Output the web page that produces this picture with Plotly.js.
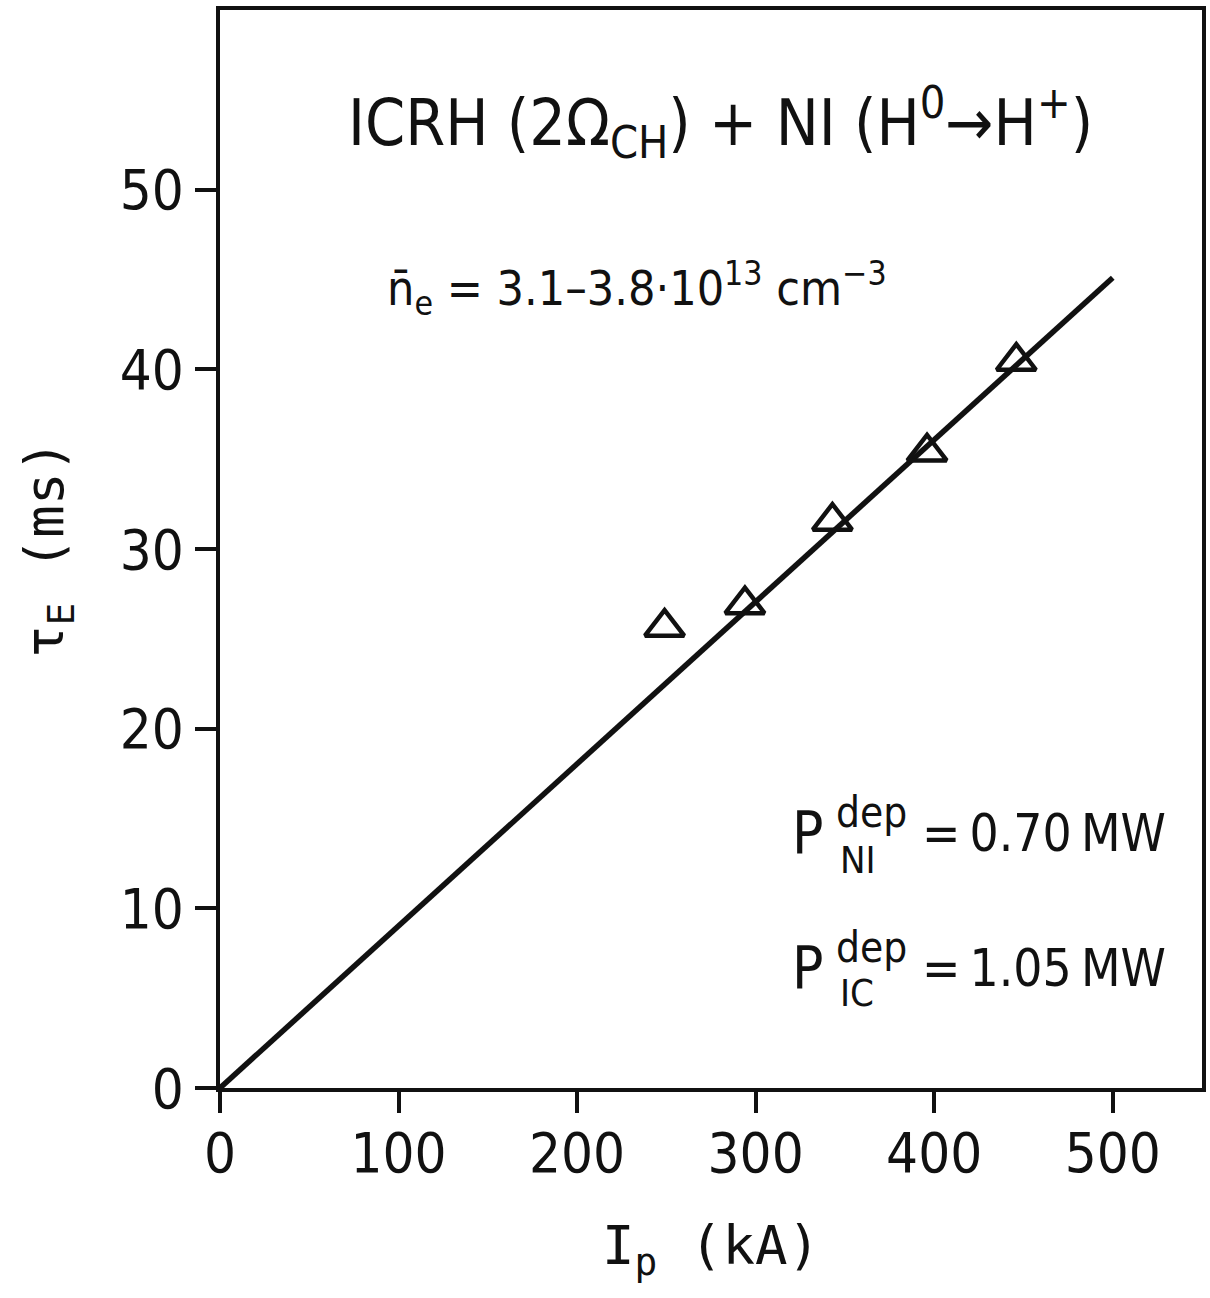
<!DOCTYPE html>
<html>
<head>
<meta charset="utf-8">
<script src="https://cdn.plot.ly/plotly-3.0.1.min.js"></script>
<style>html,body{margin:0;padding:0;background:#fff;}</style>
</head>
<body>
<div id="chart" style="width:1210px;height:1298px;"></div>
<script>
// Data
const ipKA = [249, 294, 343, 396, 446];
const tauE = [25.65, 26.9, 31.55, 35.4, 40.45];
const fitX = [0, 500];
const fitY = [0, 45.1];
const xTicks = [0, 100, 200, 300, 400, 500];
const yTicks = [0, 10, 20, 30, 40, 50];

const FN = '"DejaVu Sans Condensed", "DejaVu Sans", Roboto, sans-serif';
const W = 1210, H = 1298;
const L = 220, R = 8, T = 10, B = 210;
const pw = W - L - R, ph = H - T - B;
const px = v => (v - L) / pw;
const py = v => (H - B - v) / ph;

const traces = [
  {x: fitX, y: fitY, mode: 'lines', line: {color: '#111', width: 5.5}, hoverinfo: 'skip', showlegend: false},
  {x: ipKA, y: tauE, mode: 'markers', showlegend: false,
   marker: {symbol: 'triangle-up-open', size: 34, color: '#111', line: {color: '#111', width: 4.5}}}
];

function ann(text, x, y, size, xanchor, family) {
  return {text: text, xref: 'paper', yref: 'paper', x: px(x), y: py(y), xanchor: xanchor || 'left',
    yanchor: 'middle', showarrow: false, font: {family: family || FN, size: size, color: '#111'}};
}

const layout = {
  width: W, height: H,
  margin: {l: L, r: R, t: T, b: B},
  paper_bgcolor: '#fff', plot_bgcolor: '#fff',
  font: {family: FN, color: '#111'},
  xaxis: {
    range: [0, 550], tickvals: xTicks, ticktext: xTicks.map(String),
    showline: true, mirror: true, linecolor: '#111', linewidth: 4,
    ticks: 'outside', ticklen: 21, tickwidth: 4, tickcolor: '#111',
    showgrid: false, zeroline: false, ticklabelstandoff: -8,
    tickfont: {family: FN, size: 56, color: '#111'},
    title: {text: 'I<sub>p</sub> (kA)', font: {family: 'DejaVu Sans Mono', size: 54, color: '#111'}, standoff: 43},
    automargin: false
  },
  yaxis: {
    range: [0, 60], tickvals: yTicks, ticktext: yTicks.map(String),
    showline: true, mirror: true, linecolor: '#111', linewidth: 4,
    ticks: 'outside', ticklen: 21, tickwidth: 4, tickcolor: '#111',
    showgrid: false, zeroline: false,
    tickfont: {family: FN, size: 56, color: '#111'},
    title: {text: 'τ<sub>E</sub> (ms)', font: {family: 'DejaVu Sans Mono', size: 54, color: '#111'}, standoff: 40},
    automargin: false
  },
  annotations: [
    ann('ICRH (2Ω<sub>CH</sub>) + NI (H<sup>0</sup>→H<sup>+</sup>)', 720, 122, 64, 'center'),
    ann('n̄<sub>e</sub> = 3.1–3.8·10<sup>13</sup> cm<sup>−3</sup>', 385, 288, 48, 'left'),
    ann('P', 790, 833, 58, 'left'),
    ann('dep', 834, 812, 42, 'left'),
    ann('NI', 838, 860, 38, 'left'),
    ann('=\u20090.70\u2009MW', 920, 833, 51, 'left'),
    ann('P', 790, 968, 58, 'left'),
    ann('dep', 834, 947, 42, 'left'),
    ann('IC', 838, 993, 38, 'left'),
    ann('=\u20091.05\u2009MW', 920, 968, 51, 'left')
  ]
};

Plotly.newPlot('chart', traces, layout, {displayModeBar: false, staticPlot: true});
</script>
</body>
</html>
